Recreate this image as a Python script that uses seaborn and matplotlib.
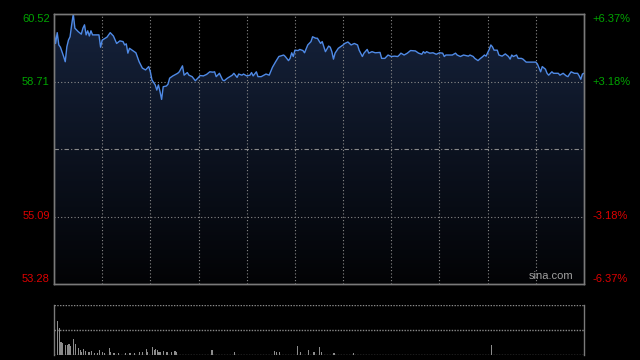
import numpy as np
import matplotlib
matplotlib.use("Agg")
import matplotlib.pyplot as plt
import seaborn as sns
import pandas as pd

# ---- data ----
minutes = [0, 1, 2, 3, 4, 6, 7, 8, 9, 10, 11, 12, 13, 15, 17, 18, 19, 20, 21, 22, 23, 24, 27, 28, 29, 30,
           33, 35, 37, 39, 41, 43, 44, 45, 46, 47, 50, 51, 53, 55, 57, 59, 60, 61, 63, 64, 65, 66, 67, 68,
           70, 71, 72, 74, 77, 78, 80, 81, 83, 84, 86, 88, 90, 91, 93, 95, 97, 99, 100, 101, 103, 105, 106,
           108, 111, 112, 114, 115, 117, 118, 120, 122, 123, 124, 126, 127, 129, 132, 134, 136, 138, 140,
           143, 144, 146, 147, 148, 149, 150, 152, 153, 155, 156, 158, 160, 161, 163, 164, 166, 167, 169,
           171, 172, 173, 174, 175, 177, 178, 180, 181, 183, 185, 187, 189, 190, 192, 193, 195, 196, 198,
           200, 203, 204, 206, 208, 210, 212, 214, 215, 216, 218, 220, 222, 225, 227, 229, 230, 231, 232,
           234, 236, 238, 240, 242, 243, 244, 246, 248, 250, 251, 253, 255, 258, 259, 261, 262, 264, 265,
           267, 268, 269, 270, 271, 272, 273, 274, 276, 277, 279, 281, 283, 284, 285, 286, 288, 289, 291,
           292, 294, 297, 300, 301, 303, 304, 306, 307, 308, 310, 311, 314, 315, 317, 319, 320, 321, 322,
           324, 326, 327, 328, 329, 330]
prices = [60.05, 59.73, 60.02, 59.69, 59.63, 59.38, 59.24, 59.64, 59.82, 59.91, 60.23, 60.52, 60.14, 60.05,
          59.98, 60.14, 60.23, 59.96, 60.07, 59.93, 60.07, 59.96, 59.96, 59.96, 59.63, 59.82,
          59.90, 60.02, 59.93, 59.73, 59.80, 59.78, 59.69, 59.72, 59.47, 59.60, 59.51, 59.48, 59.24, 59.07,
          59.02, 59.11, 58.97, 58.75, 58.62, 58.48, 58.62, 58.44, 58.23, 58.57,
          58.59, 58.64, 58.80, 58.86, 58.93, 58.97, 59.13, 58.88, 58.95, 58.88, 58.84, 58.73, 58.82, 58.87,
          58.86, 58.90, 58.97, 58.96, 58.97, 58.84, 58.93, 58.75, 58.73,
          58.80, 58.88, 58.93, 58.82, 58.91, 58.88, 58.91, 58.86, 58.88, 58.95, 58.86, 58.97, 58.84, 58.84,
          58.91, 58.88, 59.09, 59.24, 59.38,
          59.42, 59.38, 59.27, 59.33, 59.48, 59.38, 59.55, 59.54, 59.57, 59.54, 59.48, 59.69, 59.78, 59.91,
          59.87, 59.87, 59.73, 59.78, 59.51,
          59.66, 59.63, 59.51, 59.31, 59.47, 59.60, 59.63, 59.69, 59.73, 59.77, 59.69, 59.73, 59.69, 59.55,
          59.38, 59.47, 59.57, 59.47, 59.51,
          59.48, 59.49, 59.33, 59.33, 59.42, 59.38, 59.39, 59.38, 59.42, 59.47, 59.42, 59.47, 59.54, 59.53,
          59.47, 59.44, 59.51, 59.47, 59.51,
          59.47, 59.48, 59.44, 59.48, 59.47, 59.38, 59.42, 59.42, 59.42, 59.47, 59.42, 59.38, 59.42, 59.39,
          59.42, 59.38, 59.33, 59.27, 59.31,
          59.38, 59.42, 59.39, 59.48, 59.57, 59.69, 59.64, 59.55, 59.55, 59.42, 59.39, 59.45, 59.38, 59.31,
          59.42, 59.38, 59.42, 59.33, 59.33,
          59.31, 59.23, 59.23, 59.23, 59.18, 58.97, 59.11, 59.04, 58.93, 58.88, 58.97, 58.93, 58.93, 58.88,
          58.93, 58.86, 58.84, 58.91, 58.97,
          58.93, 58.93, 58.86, 58.77, 58.91, 58.93]

vol_minutes = [0, 2, 3, 4, 5, 7, 8, 9, 10, 12, 13, 15, 16, 17, 18, 19, 21, 22, 23, 25, 27, 28, 30, 31, 34,
               35, 37, 40, 44, 47, 50, 53, 55, 57, 58, 61, 62, 63, 64, 65, 66, 68, 70, 73, 75, 76, 98, 112,
               137, 138, 140, 151, 153, 158, 161, 162, 165, 166, 174, 186, 272]
volumes = [50, 34, 27, 13, 12, 10, 10, 11, 9, 16, 11, 7, 5, 3, 6, 4, 3, 3, 4, 2, 2.5, 5, 3, 2, 7,
           3, 2, 2, 2, 2, 2, 3, 3, 6, 3, 8, 5, 6, 5, 3, 3, 4, 3, 3, 4, 3, 5, 3,
           4, 3, 3, 9, 3, 5, 3, 3, 8, 3, 2.5, 2.3, 10]

price_ticks = [60.52, 58.71, 55.09, 53.28]
price_labels = ["60.52", "58.71", "55.09", "53.28"]
pct_labels = ["+6.37%", "+3.18%", "-3.18%", "-6.37%"]
prev_close = 56.90
half_hours = [30, 60, 90, 120, 150, 180, 210, 240, 270, 300]

# ---- style ----
sns.set_theme(style="dark")
plt.rcParams['font.family'] = ['Liberation Sans', 'DejaVu Sans']

GREEN = "#00a400"
RED = "#dd0000"
GRID = "#8a8a8a"
BORDER = "#7a7a7a"

fig = plt.figure(figsize=(6.4, 3.6), dpi=100, facecolor="black")
W, H = 640, 360
ax = fig.add_axes([54 / W, 1 - 284 / H, 530 / W, 270 / H])
axv = fig.add_axes([54 / W, 1 - 355 / H, 530 / W, 50 / H])

for a in (ax, axv):
    a.set_facecolor("black")
    a.grid(False)

ymin, ymax = price_ticks[-1], price_ticks[0]
ax.set_xlim(0, 330)
ax.set_ylim(ymin, ymax)

# gradient fill under the line
df = pd.DataFrame({"minute": minutes, "price": prices})
poly = ax.fill_between(df["minute"], df["price"], ymin, color="none", lw=0)
grad = np.linspace(0, 1, 256).reshape(-1, 1)
top_c = np.array([0.085, 0.135, 0.235])
bot_c = np.array([0.01, 0.012, 0.02])
img = bot_c + (top_c - bot_c) * grad
img = np.repeat(img[:, None, :], 2, axis=1).reshape(256, 2, 3)
im = ax.imshow(img, extent=[0, 330, ymin, ymax], aspect="auto", origin="lower", zorder=1)
im.set_clip_path(poly.get_paths()[0], transform=ax.transData)

# grid
for m in half_hours:
    ax.axvline(m, color=GRID, lw=0.8, ls=(0, (1, 2)), zorder=2)
for p in (58.71, 55.09):
    ax.axhline(p, color=GRID, lw=0.8, ls=(0, (1, 2)), zorder=2)
ax.axhline(prev_close, color=GRID, lw=0.8, ls=(0, (4, 2, 1, 2)), zorder=2)

# price line
sns.lineplot(data=df, x="minute", y="price", ax=ax, color="#4f8ae6", lw=1.0, zorder=3)

# axes labels
ax.set_xlabel("")
ax.set_ylabel("")
ax.set_xticks([])
ax.set_yticks(price_ticks)
ax.set_yticklabels(price_labels)
ax.tick_params(axis="y", length=0, pad=3, labelsize=8)
cols = [GREEN, GREEN, RED, RED]
vas = ["top", "center", "center", "bottom"]
for lab, c, va in zip(ax.get_yticklabels(), cols, vas):
    lab.set_color(c)
    lab.set_va(va)

ax2 = ax.twinx()
ax2.set_ylim(ymin, ymax)
ax2.set_yticks(price_ticks)
ax2.set_yticklabels(pct_labels)
ax2.tick_params(axis="y", length=0, pad=6, labelsize=8)
for lab, c, va in zip(ax2.get_yticklabels(), cols, vas):
    lab.set_color(c)
    lab.set_va(va)
ax2.grid(False)

for a in (ax, ax2):
    for s in a.spines.values():
        s.set_color(BORDER)
        s.set_linewidth(1)
        s.set_visible(True)

ax.text(0.979, 0.01, "sina.com", transform=ax.transAxes, ha="right", va="bottom",
        color="#a0a0a0", fontsize=8, zorder=5)

# volume panel
axv.set_xlim(0, 330)
axv.set_ylim(0, 50)
axv.bar(vol_minutes, volumes, width=0.7, align="edge", color="#8c8c8c", lw=0, zorder=2)
for yy in (50, 25, 0.4):
    axv.axhline(yy, color=GRID, lw=1.0, ls=(0, (1, 1)), zorder=3)
axv.set_xticks([])
axv.set_yticks([])
for k, s in axv.spines.items():
    if k in ("left", "right"):
        s.set_color(BORDER)
        s.set_linewidth(1)
        s.set_visible(True)
    else:
        s.set_visible(False)

fig.savefig("out.png", dpi=100, facecolor="black")
